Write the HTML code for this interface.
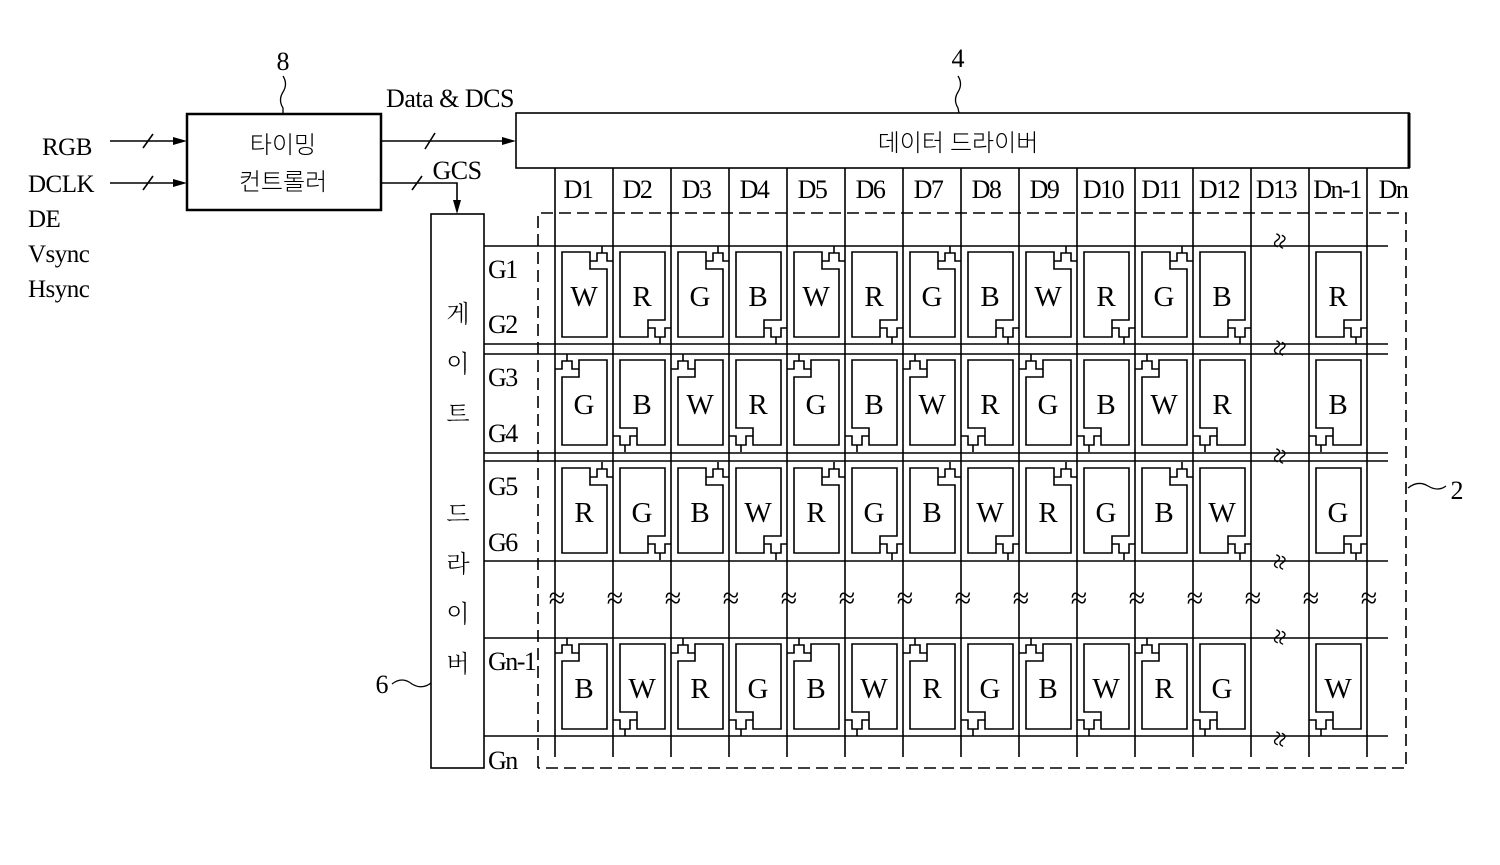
<!DOCTYPE html>
<html><head><meta charset="utf-8"><style>
html,body{margin:0;padding:0;background:#fff}
svg{display:block}
text{font-family:"Liberation Serif","Noto Serif CJK SC","Noto Sans CJK KR",serif;fill:#000}
.k{font-family:"Liberation Serif","Noto Sans CJK KR","NanumGothic",sans-serif;font-weight:300}
</style></head><body>
<svg width="1500" height="865" viewBox="0 0 1500 865" xmlns="http://www.w3.org/2000/svg">
<defs>
<g id="TR" fill="none" stroke="#000" stroke-width="1.6"><path d="M7,6 H35 V23 H52 V91 H7 Z"/><path d="M35,15 H42 V7 H52 V15 H58 M47,0 V7"/></g>
<g id="BR" fill="none" stroke="#000" stroke-width="1.6"><path d="M7,6 H52 V74 H35 V91 H7 Z"/><path d="M35,82 H42 V91 H52 V82 H58 M47,91 V98"/></g>
<g id="TL" fill="none" stroke="#000" stroke-width="1.6"><path d="M52,6 H24 V23 H7 V91 H52 Z"/><path d="M24,15 H17 V7 H7 V15 H0 M12,0 V7"/></g>
<g id="BL" fill="none" stroke="#000" stroke-width="1.6"><path d="M7,6 H52 V91 H24 V74 H7 Z"/><path d="M24,82 H17 V91 H7 V82 H0 M12,91 V98"/></g>
</defs>

<!-- left inputs -->
<g font-size="25" letter-spacing="-0.5">
<text x="42" y="155">RGB</text>
<text x="28" y="192">DCLK</text>
<text x="28" y="227">DE</text>
<text x="28" y="262">Vsync</text>
<text x="28" y="297">Hsync</text>
</g>
<g stroke="#000" stroke-width="1.6" fill="none">
<path d="M110,141 H180 M110,183 H180"/>
<path d="M143,148 L153,134 M143,190 L153,176"/>
</g>
<path d="M187,141 l-14,-4 v8 z M187,183 l-14,-4 v8 z" fill="#000"/>

<!-- timing controller -->
<rect x="187" y="114" width="194" height="96" fill="none" stroke="#000" stroke-width="2.5"/>
<text x="283" y="153" font-size="24" text-anchor="middle" class="k">타이밍</text>
<text x="283" y="190" font-size="24" text-anchor="middle" class="k">컨트롤러</text>
<text x="283" y="70" font-size="26" text-anchor="middle">8</text>
<path d="M283,76 q5,8 0,16 q-5,8 0,16 l0,6" fill="none" stroke="#000" stroke-width="1.3"/>

<!-- Data & DCS -->
<text x="450" y="107" font-size="26" letter-spacing="-0.5" text-anchor="middle">Data &amp; DCS</text>
<path d="M381,141 H508" stroke="#000" stroke-width="1.6"/>
<path d="M425,149 L435,133" stroke="#000" stroke-width="1.6"/>
<path d="M516,141 l-14,-4 v8 z" fill="#000"/>
<!-- GCS -->
<text x="457" y="179" font-size="26" letter-spacing="-0.5" text-anchor="middle">GCS</text>
<path d="M381,183 H457 V206" stroke="#000" stroke-width="1.6" fill="none"/>
<path d="M412,190 L422,176" stroke="#000" stroke-width="1.6"/>
<path d="M457,214 l-4,-14 h8 z" fill="#000"/>

<!-- data driver -->
<rect x="516" y="113" width="893" height="55" fill="none" stroke="#000" stroke-width="1.6"/>
<path d="M1409,113 V168" stroke="#000" stroke-width="3"/>
<text x="958" y="151" font-size="24" text-anchor="middle" class="k">데이터 드라이버</text>
<text x="958" y="67" font-size="26" text-anchor="middle">4</text>
<path d="M958,76 q5,8 0,16 q-5,8 0,16 l1,5" fill="none" stroke="#000" stroke-width="1.3"/>

<!-- gate driver -->
<rect x="431" y="214" width="53" height="554" fill="none" stroke="#000" stroke-width="1.6"/>
<g font-size="24" text-anchor="middle" class="k">
<text x="458" y="322">게</text>
<text x="458" y="372">이</text>
<text x="458" y="422">트</text>
<text x="458" y="522">드</text>
<text x="458" y="572">라</text>
<text x="458" y="622">이</text>
<text x="458" y="672">버</text>
</g>
<text x="382" y="693" font-size="26" text-anchor="middle">6</text>
<path d="M392,684 q10,-8 20,0 q10,6 19,-1" fill="none" stroke="#000" stroke-width="1.3"/>

<!-- dashed panel -->
<path d="M538,768 V213 H1406 V768 H538" fill="none" stroke="#000" stroke-width="1.6" stroke-dasharray="12,6"/>
<text x="1457" y="499" font-size="26" text-anchor="middle">2</text>
<path d="M1408,488 q10,-8 20,-2 q10,6 18,0" fill="none" stroke="#000" stroke-width="1.3"/>

<!-- D labels -->
<g font-size="26" letter-spacing="-1.5" text-anchor="middle">
<text x="578" y="198">D1</text><text x="637" y="198">D2</text><text x="696" y="198">D3</text><text x="754" y="198">D4</text>
<text x="812" y="198">D5</text><text x="870" y="198">D6</text><text x="928" y="198">D7</text><text x="986" y="198">D8</text>
<text x="1044" y="198">D9</text><text x="1103" y="198">D10</text><text x="1161" y="198">D11</text><text x="1219" y="198">D12</text>
<text x="1276" y="198">D13</text><text x="1337" y="198">Dn-1</text><text x="1393" y="198">Dn</text>
</g>

<!-- data lines -->
<g stroke="#000" stroke-width="1.6">
<path d="M555,168V757 M613,168V757 M671,168V757 M729,168V757 M787,168V757 M845,168V757 M903,168V757 M961,168V757 M1019,168V757 M1077,168V757 M1135,168V757 M1193,168V757 M1251,168V757 M1309,168V757 M1367,168V757"/>
<path d="M484,246H1388 M484,344H1388 M484,354H1388 M484,453H1388 M484,461H1388 M484,561H1388 M484,638H1388 M484,736H1388"/>
</g>

<!-- G labels -->
<g font-size="26" letter-spacing="-1.5">
<text x="488" y="278">G1</text><text x="488" y="333">G2</text>
<text x="488" y="386">G3</text><text x="488" y="442">G4</text>
<text x="488" y="495">G5</text><text x="488" y="551">G6</text>
<text x="488" y="670">Gn-1</text><text x="488" y="769">Gn</text>
</g>

<!-- pixels -->
<use href="#TR" x="555" y="246"/><use href="#BR" x="613" y="246"/><use href="#TR" x="671" y="246"/><use href="#BR" x="729" y="246"/>
<use href="#TR" x="787" y="246"/><use href="#BR" x="845" y="246"/><use href="#TR" x="903" y="246"/><use href="#BR" x="961" y="246"/>
<use href="#TR" x="1019" y="246"/><use href="#BR" x="1077" y="246"/><use href="#TR" x="1135" y="246"/><use href="#BR" x="1193" y="246"/>
<use href="#BR" x="1309" y="246"/>
<use href="#TL" x="555" y="354"/><use href="#BL" x="613" y="354"/><use href="#TL" x="671" y="354"/><use href="#BL" x="729" y="354"/>
<use href="#TL" x="787" y="354"/><use href="#BL" x="845" y="354"/><use href="#TL" x="903" y="354"/><use href="#BL" x="961" y="354"/>
<use href="#TL" x="1019" y="354"/><use href="#BL" x="1077" y="354"/><use href="#TL" x="1135" y="354"/><use href="#BL" x="1193" y="354"/>
<use href="#BL" x="1309" y="354"/>
<use href="#TR" x="555" y="462"/><use href="#BR" x="613" y="462"/><use href="#TR" x="671" y="462"/><use href="#BR" x="729" y="462"/>
<use href="#TR" x="787" y="462"/><use href="#BR" x="845" y="462"/><use href="#TR" x="903" y="462"/><use href="#BR" x="961" y="462"/>
<use href="#TR" x="1019" y="462"/><use href="#BR" x="1077" y="462"/><use href="#TR" x="1135" y="462"/><use href="#BR" x="1193" y="462"/>
<use href="#BR" x="1309" y="462"/>
<use href="#TL" x="555" y="638"/><use href="#BL" x="613" y="638"/><use href="#TL" x="671" y="638"/><use href="#BL" x="729" y="638"/>
<use href="#TL" x="787" y="638"/><use href="#BL" x="845" y="638"/><use href="#TL" x="903" y="638"/><use href="#BL" x="961" y="638"/>
<use href="#TL" x="1019" y="638"/><use href="#BL" x="1077" y="638"/><use href="#TL" x="1135" y="638"/><use href="#BL" x="1193" y="638"/>
<use href="#BL" x="1309" y="638"/>

<!-- letters -->
<g font-size="29" text-anchor="middle">
<text x="584" y="306">W</text><text x="642" y="306">R</text><text x="700" y="306">G</text><text x="758" y="306">B</text>
<text x="816" y="306">W</text><text x="874" y="306">R</text><text x="932" y="306">G</text><text x="990" y="306">B</text>
<text x="1048" y="306">W</text><text x="1106" y="306">R</text><text x="1164" y="306">G</text><text x="1222" y="306">B</text>
<text x="1338" y="306">R</text>

<text x="584" y="414">G</text><text x="642" y="414">B</text><text x="700" y="414">W</text><text x="758" y="414">R</text>
<text x="816" y="414">G</text><text x="874" y="414">B</text><text x="932" y="414">W</text><text x="990" y="414">R</text>
<text x="1048" y="414">G</text><text x="1106" y="414">B</text><text x="1164" y="414">W</text><text x="1222" y="414">R</text>
<text x="1338" y="414">B</text>

<text x="584" y="522">R</text><text x="642" y="522">G</text><text x="700" y="522">B</text><text x="758" y="522">W</text>
<text x="816" y="522">R</text><text x="874" y="522">G</text><text x="932" y="522">B</text><text x="990" y="522">W</text>
<text x="1048" y="522">R</text><text x="1106" y="522">G</text><text x="1164" y="522">B</text><text x="1222" y="522">W</text>
<text x="1338" y="522">G</text>

<text x="584" y="698">B</text><text x="642" y="698">W</text><text x="700" y="698">R</text><text x="758" y="698">G</text>
<text x="816" y="698">B</text><text x="874" y="698">W</text><text x="932" y="698">R</text><text x="990" y="698">G</text>
<text x="1048" y="698">B</text><text x="1106" y="698">W</text><text x="1164" y="698">R</text><text x="1222" y="698">G</text>
<text x="1338" y="698">W</text>
</g>

<!-- break marks middle row -->
<g font-size="30" text-anchor="middle">
<text x="557" y="608">≈</text><text x="615" y="608">≈</text><text x="673" y="608">≈</text><text x="731" y="608">≈</text>
<text x="789" y="608">≈</text><text x="847" y="608">≈</text><text x="905" y="608">≈</text><text x="963" y="608">≈</text>
<text x="1021" y="608">≈</text><text x="1079" y="608">≈</text><text x="1137" y="608">≈</text><text x="1195" y="608">≈</text>
<text x="1253" y="608">≈</text><text x="1311" y="608">≈</text><text x="1369" y="608">≈</text>
</g>
<!-- break marks D13 column -->
<g font-size="28" text-anchor="middle">
<text transform="translate(1280,241) rotate(-75)" y="9">≈</text>
<text transform="translate(1280,348) rotate(-75)" y="9">≈</text>
<text transform="translate(1280,456) rotate(-75)" y="9">≈</text>
<text transform="translate(1280,562) rotate(-75)" y="9">≈</text>
<text transform="translate(1280,637) rotate(-75)" y="9">≈</text>
<text transform="translate(1280,739) rotate(-75)" y="9">≈</text>
</g>
</svg>
</body></html>
